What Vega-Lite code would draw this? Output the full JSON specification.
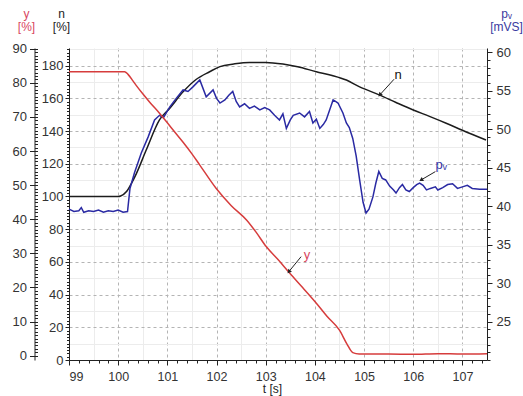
{
  "$schema": "https://vega.github.io/schema/vega-lite/v6.json",
  "width": 418,
  "height": 312,
  "autosize": "none",
  "padding": {"left": 69, "top": 48, "right": 36, "bottom": 36},
  "background": "white",
  "config": {
    "view": {"stroke": null},
    "font": "Liberation Sans",
    "axis": {"labelFont": "Liberation Sans", "titleFont": "Liberation Sans", "labelColor": "#333", "domainColor": "#222", "tickColor": "#222", "titleFontWeight": "normal", "labelFontSize": 13, "titleFontSize": 12, "titleColor": "#222"}
  },
  "datasets": {
    "n": [
      {"t": 99.0, "n": 100}, {"t": 100.0, "n": 100}, {"t": 100.05, "n": 100.3}, {"t": 100.17, "n": 103}, {"t": 100.27, "n": 108}, {"t": 100.37, "n": 114}, {"t": 100.57, "n": 128.4}, {"t": 100.84, "n": 146.8}, {"t": 101.05, "n": 154}, {"t": 101.32, "n": 164}, {"t": 101.59, "n": 171.7}, {"t": 101.86, "n": 176.3}, {"t": 102.07, "n": 179.4}, {"t": 102.35, "n": 181}, {"t": 102.67, "n": 182}, {"t": 103.0, "n": 182}, {"t": 103.35, "n": 181}, {"t": 103.65, "n": 179.3}, {"t": 104.03, "n": 176.3}, {"t": 104.35, "n": 174}, {"t": 104.64, "n": 171.2}, {"t": 104.91, "n": 167}, {"t": 105.32, "n": 162}, {"t": 105.65, "n": 157.5}, {"t": 106.0, "n": 152.9}, {"t": 106.33, "n": 149}, {"t": 106.67, "n": 144.8}, {"t": 107.0, "n": 140.5}, {"t": 107.48, "n": 134.5}
    ],
    "y": [
      {"t": 99.0, "y": 83.3}, {"t": 100.13, "y": 83.3}, {"t": 100.2, "y": 82.5}, {"t": 100.3, "y": 80.6}, {"t": 100.37, "y": 79.2}, {"t": 100.5, "y": 76.8}, {"t": 100.65, "y": 74.2}, {"t": 100.84, "y": 71.1}, {"t": 101.0, "y": 68.3}, {"t": 101.15, "y": 65.6}, {"t": 101.32, "y": 62.6}, {"t": 101.5, "y": 59.2}, {"t": 101.66, "y": 55.9}, {"t": 101.99, "y": 49.1}, {"t": 102.3, "y": 44.0}, {"t": 102.61, "y": 39.8}, {"t": 102.8, "y": 36.3}, {"t": 103.01, "y": 32.0}, {"t": 103.25, "y": 28.2}, {"t": 103.49, "y": 24.2}, {"t": 103.75, "y": 20.0}, {"t": 104.03, "y": 15.4}, {"t": 104.25, "y": 11.5}, {"t": 104.5, "y": 7.5}, {"t": 104.65, "y": 3.5}, {"t": 104.77, "y": 0.9}, {"t": 104.9, "y": 0.5}, {"t": 105.5, "y": 0.5}, {"t": 106.0, "y": 0.4}, {"t": 106.5, "y": 0.6}, {"t": 107.0, "y": 0.5}, {"t": 107.5, "y": 0.6}
    ],
    "pv": [
      {"t": 99.0, "p": 39.6}, {"t": 99.1, "p": 39.3}, {"t": 99.2, "p": 39.4}, {"t": 99.25, "p": 39.8}, {"t": 99.3, "p": 39.2}, {"t": 99.4, "p": 39.4}, {"t": 99.5, "p": 39.3}, {"t": 99.6, "p": 39.5}, {"t": 99.7, "p": 39.2}, {"t": 99.8, "p": 39.4}, {"t": 99.9, "p": 39.3}, {"t": 100.0, "p": 39.5}, {"t": 100.1, "p": 39.2}, {"t": 100.19, "p": 39.3},
      {"t": 100.24, "p": 42.3}, {"t": 100.33, "p": 44.3}, {"t": 100.47, "p": 46.9}, {"t": 100.61, "p": 49.0}, {"t": 100.74, "p": 51.2}, {"t": 100.84, "p": 51.8}, {"t": 100.92, "p": 51.5}, {"t": 101.05, "p": 52.9}, {"t": 101.18, "p": 54.0}, {"t": 101.32, "p": 55.1}, {"t": 101.42, "p": 54.9}, {"t": 101.52, "p": 55.5}, {"t": 101.66, "p": 56.4}, {"t": 101.79, "p": 54.2},
      {"t": 101.93, "p": 55.1}, {"t": 102.0, "p": 54.0}, {"t": 102.07, "p": 53.4}, {"t": 102.17, "p": 53.8}, {"t": 102.25, "p": 54.4}, {"t": 102.33, "p": 54.9}, {"t": 102.4, "p": 53.6}, {"t": 102.47, "p": 52.9}, {"t": 102.57, "p": 53.3}, {"t": 102.67, "p": 52.7}, {"t": 102.77, "p": 53.0}, {"t": 102.88, "p": 52.5}, {"t": 102.98, "p": 52.8}, {"t": 103.08, "p": 52.5}, {"t": 103.18, "p": 51.8}, {"t": 103.28, "p": 51.2}, {"t": 103.35, "p": 52.0}, {"t": 103.42, "p": 50.1}, {"t": 103.5, "p": 51.2}, {"t": 103.56, "p": 51.8}, {"t": 103.69, "p": 52.1}, {"t": 103.79, "p": 51.6}, {"t": 103.89, "p": 52.3}, {"t": 103.96, "p": 50.8}, {"t": 104.03, "p": 51.3}, {"t": 104.1, "p": 50.1}, {"t": 104.17, "p": 50.6}, {"t": 104.23, "p": 51.2}, {"t": 104.3, "p": 52.5}, {"t": 104.37, "p": 53.8}, {"t": 104.42, "p": 53.6}, {"t": 104.47, "p": 53.4}, {"t": 104.57, "p": 52.1}, {"t": 104.64, "p": 50.8}, {"t": 104.7, "p": 50.2}, {"t": 104.77, "p": 48.8}, {"t": 104.84, "p": 46.5}, {"t": 104.91, "p": 43.4}, {"t": 104.98, "p": 40.5}, {"t": 105.04, "p": 39.1}, {"t": 105.1, "p": 39.6}, {"t": 105.18, "p": 41.2}, {"t": 105.24, "p": 43.0}, {"t": 105.3, "p": 44.5}, {"t": 105.37, "p": 43.6}, {"t": 105.44, "p": 43.4}, {"t": 105.52, "p": 42.6}, {"t": 105.6, "p": 42.1}, {"t": 105.65, "p": 41.7}, {"t": 105.72, "p": 42.4}, {"t": 105.78, "p": 42.8}, {"t": 105.85, "p": 42.1}, {"t": 105.92, "p": 41.9}, {"t": 106.0, "p": 42.4}, {"t": 106.07, "p": 42.8}, {"t": 106.13, "p": 43.0}, {"t": 106.2, "p": 42.7}, {"t": 106.27, "p": 42.1}, {"t": 106.35, "p": 42.3}, {"t": 106.45, "p": 42.5}, {"t": 106.5, "p": 42.1}, {"t": 106.6, "p": 42.4}, {"t": 106.7, "p": 42.8}, {"t": 106.8, "p": 42.9}, {"t": 106.9, "p": 42.3}, {"t": 107.0, "p": 42.5}, {"t": 107.1, "p": 42.7}, {"t": 107.2, "p": 42.3}, {"t": 107.35, "p": 42.2}, {"t": 107.5, "p": 42.2}
    ],
    "ann": [
      {"label": "n", "txt": "n", "tx": 105.69, "tv": 174.3, "t": 105.61, "v": 171.7, "t2": 105.32, "v2": 162.1},
      {"label": "pv", "txt": "pᵥ", "tx": 106.57, "tv": 119.3, "t": 106.45, "v": 115.2, "t2": 106.16, "v2": 110.1},
      {"label": "y", "txt": "y", "tx": 103.84, "tv": 64.5, "t": 103.72, "v": 63.2, "t2": 103.47, "v2": 54.0}
    ]
  },
  "layer": [
    {
      "data": {"name": "n"},
      "mark": {"type": "line", "opacity": 0},
      "encoding": {
        "x": {"field": "t", "type": "quantitative", "scale": {"domain": [99, 107.5], "nice": false, "zero": false},
          "axis": {"orient": "bottom", "values": [99.5, 100.5, 101.5, 102.5, 103.5, 104.5, 105.5, 106.5, 107.5], "labels": false, "ticks": false, "domain": false, "grid": true, "gridColor": "#ececec", "title": null}},
        "y": {"field": "n", "type": "quantitative", "scale": {"domain": [0, 190.8], "nice": false, "zero": false},
          "axis": {"orient": "left", "values": [10, 30, 50, 70, 90, 110, 130, 150, 170, 190], "labels": false, "ticks": false, "domain": false, "grid": true, "gridColor": "#ececec", "title": null}}
      }
    },
    {
      "data": {"name": "n"},
      "mark": {"type": "line", "opacity": 0},
      "encoding": {
        "x": {"field": "t", "type": "quantitative", "scale": {"domain": [99, 107.5], "nice": false, "zero": false},
          "axis": {"orient": "bottom", "values": [99, 99.2, 99.4, 99.6, 99.8, 100, 100.2, 100.4, 100.6, 100.8, 101, 101.2, 101.4, 101.6, 101.8, 102, 102.2, 102.4, 102.6, 102.8, 103, 103.2, 103.4, 103.6, 103.8, 104, 104.2, 104.4, 104.6, 104.8, 105, 105.2, 105.4, 105.6, 105.8, 106, 106.2, 106.4, 106.6, 106.8, 107, 107.2, 107.4], "labels": false, "domain": false, "tickSize": 3, "grid": false, "title": null}},
        "y": {"field": "n", "type": "quantitative", "scale": {"domain": [0, 190.8], "nice": false, "zero": false},
          "axis": {"orient": "left", "values": [0, 2, 4, 6, 8, 10, 12, 14, 16, 18, 20, 22, 24, 26, 28, 30, 32, 34, 36, 38, 40, 42, 44, 46, 48, 50, 52, 54, 56, 58, 60, 62, 64, 66, 68, 70, 72, 74, 76, 78, 80, 82, 84, 86, 88, 90, 92, 94, 96, 98, 100, 102, 104, 106, 108, 110, 112, 114, 116, 118, 120, 122, 124, 126, 128, 130, 132, 134, 136, 138, 140, 142, 144, 146, 148, 150, 152, 154, 156, 158, 160, 162, 164, 166, 168, 170, 172, 174, 176, 178, 180, 182, 184, 186, 188, 190], "labels": false, "domain": false, "tickSize": 2.5, "grid": false, "title": null}}
      }
    },
    {
      "data": {"name": "n"},
      "mark": {"type": "line", "color": "#1c1c1c", "strokeWidth": 1.5, "interpolate": "monotone"},
      "encoding": {
        "x": {"field": "t", "type": "quantitative", "scale": {"domain": [99, 107.5], "nice": false, "zero": false},
          "axis": {"orient": "bottom", "values": [99, 100, 101, 102, 103, 104, 105, 106, 107], "format": "d", "tickSize": 5, "labelPadding": 5, "labelFontSize": 12.5, "grid": true, "gridColor": "#b4b4b4", "gridDash": [3, 3], "domain": true, "title": "t [s]", "titleX": 203, "titleY": 32.5, "titleAlign": "center", "titleBaseline": "alphabetic", "titleAngle": 0}},
        "y": {"field": "n", "type": "quantitative", "scale": {"domain": [0, 190.8], "nice": false, "zero": false},
          "axis": {"orient": "left", "values": [0, 20, 40, 60, 80, 100, 120, 140, 160, 180], "tickSize": 4, "labelPadding": 2, "grid": true, "gridColor": "#b4b4b4", "gridDash": [3, 3], "domain": true, "title": ["n", "[%]"], "titleAngle": 0, "titleX": -8, "titleY": -40, "titleAlign": "center", "titleBaseline": "top", "titleLineHeight": 13}}
      }
    },
    {
      "data": {"name": "pv"},
      "mark": {"type": "line", "opacity": 0},
      "encoding": {
        "x": {"field": "t", "type": "quantitative", "scale": {"domain": [99, 107.5], "nice": false, "zero": false}, "axis": null},
        "y": {"field": "p", "type": "quantitative", "scale": {"domain": [20, 60.55], "nice": false, "zero": false},
          "axis": {"orient": "right", "values": [20, 21, 22, 23, 24, 25, 26, 27, 28, 29, 30, 31, 32, 33, 34, 35, 36, 37, 38, 39, 40, 41, 42, 43, 44, 45, 46, 47, 48, 49, 50, 51, 52, 53, 54, 55, 56, 57, 58, 59, 60], "labels": false, "domain": false, "tickSize": 3, "grid": false, "title": null}}
      }
    },
    {
      "data": {"name": "pv"},
      "mark": {"type": "line", "color": "#2a2aa3", "strokeWidth": 1.5},
      "encoding": {
        "x": {"field": "t", "type": "quantitative", "scale": {"domain": [99, 107.5], "nice": false, "zero": false}, "axis": null},
        "y": {"field": "p", "type": "quantitative", "scale": {"domain": [20, 60.55], "nice": false, "zero": false},
          "axis": {"orient": "right", "values": [25, 30, 35, 40, 45, 50, 55, 60], "tickSize": 5, "labelPadding": 4, "domain": true, "grid": false, "title": ["pᵥ", "[mVS]"], "titleColor": "#3a3aa0", "titleAngle": 0, "titleX": 19, "titleY": -40, "titleAlign": "center", "titleBaseline": "top", "titleLineHeight": 13}}
      }
    },
    {
      "data": {"name": "y"},
      "mark": {"type": "line", "opacity": 0},
      "encoding": {
        "x": {"field": "t", "type": "quantitative", "scale": {"domain": [99, 107.5], "nice": false, "zero": false}, "axis": null},
        "y": {"field": "y", "type": "quantitative", "scale": {"domain": [-1.26, 90.23], "nice": false, "zero": false},
          "axis": {"orient": "left", "offset": 34.5, "values": [0, 1, 2, 3, 4, 5, 6, 7, 8, 9, 10, 11, 12, 13, 14, 15, 16, 17, 18, 19, 20, 21, 22, 23, 24, 25, 26, 27, 28, 29, 30, 31, 32, 33, 34, 35, 36, 37, 38, 39, 40, 41, 42, 43, 44, 45, 46, 47, 48, 49, 50, 51, 52, 53, 54, 55, 56, 57, 58, 59, 60, 61, 62, 63, 64, 65, 66, 67, 68, 69, 70, 71, 72, 73, 74, 75, 76, 77, 78, 79, 80, 81, 82, 83, 84, 85, 86, 87, 88, 89, 90], "labels": false, "domain": false, "tickSize": -3, "grid": false, "title": null}}
      }
    },
    {
      "data": {"name": "y"},
      "mark": {"type": "line", "color": "#d63c3c", "strokeWidth": 1.5, "interpolate": "monotone"},
      "encoding": {
        "x": {"field": "t", "type": "quantitative", "scale": {"domain": [99, 107.5], "nice": false, "zero": false}, "axis": null},
        "y": {"field": "y", "type": "quantitative", "scale": {"domain": [-1.26, 90.23], "nice": false, "zero": false},
          "axis": {"orient": "left", "offset": 34.5, "values": [0, 10, 20, 30, 40, 50, 60, 70, 80, 90], "tickSize": 5, "labelPadding": 3, "domain": true, "grid": false, "title": ["y", "[%]"], "titleColor": "#d9475f", "titleAngle": 0, "titleX": -8.5, "titleY": -40, "titleAlign": "center", "titleBaseline": "top", "titleLineHeight": 13}}
      }
    },
    {
      "data": {"name": "ann"},
      "mark": {"type": "rule", "color": "#222", "strokeWidth": 1},
      "encoding": {
        "x": {"field": "t", "type": "quantitative", "scale": {"domain": [99, 107.5], "nice": false, "zero": false}, "axis": null},
        "x2": {"field": "t2"},
        "y": {"field": "v", "type": "quantitative", "scale": {"domain": [0, 190.8], "nice": false, "zero": false}, "axis": null},
        "y2": {"field": "v2"}
      }
    },
    {
      "data": {"name": "ann"},
      "transform": [{"filter": "datum.label === 'n'"}],
      "mark": {"type": "point", "shape": "triangle-up", "filled": true, "color": "#222", "size": 22, "angle": 222, "opacity": 1},
      "encoding": {
        "x": {"field": "t2", "type": "quantitative", "scale": {"domain": [99, 107.5], "nice": false, "zero": false}, "axis": null},
        "y": {"field": "v2", "type": "quantitative", "scale": {"domain": [0, 190.8], "nice": false, "zero": false}, "axis": null}
      }
    },
    {
      "data": {"name": "ann"},
      "transform": [{"filter": "datum.label === 'pv'"}],
      "mark": {"type": "point", "shape": "triangle-up", "filled": true, "color": "#222", "size": 22, "angle": 240, "opacity": 1},
      "encoding": {
        "x": {"field": "t2", "type": "quantitative", "scale": {"domain": [99, 107.5], "nice": false, "zero": false}, "axis": null},
        "y": {"field": "v2", "type": "quantitative", "scale": {"domain": [0, 190.8], "nice": false, "zero": false}, "axis": null}
      }
    },
    {
      "data": {"name": "ann"},
      "transform": [{"filter": "datum.label === 'y'"}],
      "mark": {"type": "point", "shape": "triangle-up", "filled": true, "color": "#222", "size": 22, "angle": 220, "opacity": 1},
      "encoding": {
        "x": {"field": "t2", "type": "quantitative", "scale": {"domain": [99, 107.5], "nice": false, "zero": false}, "axis": null},
        "y": {"field": "v2", "type": "quantitative", "scale": {"domain": [0, 190.8], "nice": false, "zero": false}, "axis": null}
      }
    },
    {
      "data": {"name": "ann"},
      "mark": {"type": "text", "fontSize": 13, "font": "Liberation Sans", "align": "center", "baseline": "middle"},
      "encoding": {
        "x": {"field": "tx", "type": "quantitative", "scale": {"domain": [99, 107.5], "nice": false, "zero": false}, "axis": null},
        "y": {"field": "tv", "type": "quantitative", "scale": {"domain": [0, 190.8], "nice": false, "zero": false}, "axis": null},
        "text": {"field": "txt"},
        "color": {"field": "label", "type": "nominal", "scale": {"domain": ["n", "pv", "y"], "range": ["#111111", "#3535a5", "#d9475f"]}, "legend": null}
      }
    }
  ],
  "resolve": {"scale": {"y": "independent"}, "axis": {"x": "independent", "y": "independent"}}
}
